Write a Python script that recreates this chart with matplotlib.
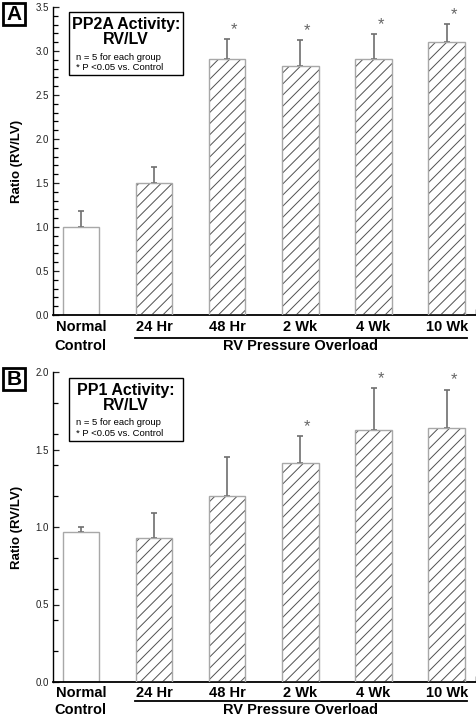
import matplotlib
matplotlib.use("Agg")
import matplotlib.pyplot as plt
from matplotlib.patches import Rectangle
from matplotlib.lines import Line2D
from matplotlib.ticker import MultipleLocator
import matplotlib.transforms as mtransforms

plt.rcParams['font.family'] = ['Liberation Sans', 'DejaVu Sans']
plt.rcParams['hatch.linewidth'] = 0.7

# ---------------- data ----------------
groups = ["Normal", "24 Hr", "48 Hr", "2 Wk", "4 Wk", "10 Wk"]
group_caption = "RV Pressure Overload"
control_caption = "Control"

pp2a_mean = [1.00, 1.50, 2.91, 2.83, 2.905, 3.105]
pp2a_sem = [0.185, 0.18, 0.23, 0.295, 0.285, 0.205]
pp2a_sig = [False, False, True, True, True, True]

pp1_mean = [0.966, 0.93, 1.20, 1.41, 1.624, 1.637]
pp1_sem = [0.034, 0.16, 0.25, 0.175, 0.27, 0.25]
pp1_sig = [False, False, False, True, True, True]

pp2a_title = "PP2A Activity:\nRV/LV"
pp1_title = "PP1 Activity:\nRV/LV"
note_lines = "n = 5 for each group\n* P <0.05 vs. Control"
ylabel = "Ratio (RV/LV)"

W, H = 477, 717
fig = plt.figure(figsize=(W / 100, H / 100), dpi=100)


def fy(px):
    return 1 - px / H


def fx(px):
    return px / W


def panel(letter, top_px, bottom_px, means, sems, sig, ymax, minor, title,
          box_px, title_y, note_y, lbl1_px, line_px, lbl2_px):
    ax = fig.add_axes([fx(53), fy(bottom_px), fx(476) - fx(53), fy(top_px) - fy(bottom_px)])
    x = list(range(len(groups)))
    width = 0.5
    for i, (xi, m) in enumerate(zip(x, means)):
        if i == 0:
            ax.bar(xi, m, width, color='white', edgecolor='#a8a8a8', linewidth=1.0, zorder=2)
        else:
            ax.bar(xi, m, width, color='white', edgecolor='#505050', hatch='///',
                   linewidth=0, zorder=2)
            ax.bar(xi, m, width, color='none', edgecolor='#a8a8a8', linewidth=1.0, zorder=3)
    ax.errorbar(x, means, yerr=[[0] * len(means), sems], fmt='none', ecolor='#6e6e6e',
                elinewidth=1.2, capsize=2.3, capthick=1.2, zorder=1)
    for xi, m, s, sg in zip(x, means, sems, sig):
        if sg:
            ax.annotate('*', xy=(xi, m + s), xytext=(7, 2), textcoords='offset pixels',
                        ha='center', va='bottom', fontsize=12, color='#666666')
    ax.set_xlim(-0.38, 5.4)
    ax.set_ylim(0, ymax)
    ax.yaxis.set_major_locator(MultipleLocator(0.5))
    ax.yaxis.set_minor_locator(MultipleLocator(minor))
    ax.yaxis.set_major_formatter(matplotlib.ticker.FormatStrFormatter('%.1f'))
    ax.tick_params(axis='y', which='major', direction='in', length=4.5, width=0.9,
                   labelsize=7, pad=3, colors='#222222')
    ax.tick_params(axis='y', which='minor', direction='in', length=3.5, width=0.9)
    ax.set_xticks([])
    ax.set_xticks([5.4], minor=True)
    ax.tick_params(axis='x', which='minor', direction='in', length=4, width=1.0)
    for sp in ['top', 'right']:
        ax.spines[sp].set_visible(False)
    ax.spines['left'].set_linewidth(1.0)
    ax.spines['bottom'].set_linewidth(1.3)
    ax.set_ylabel(ylabel, fontsize=9.5, fontweight='bold')
    ax.yaxis.set_label_coords((23 - 53) / (476 - 53), 0.5)

    trans = mtransforms.blended_transform_factory(ax.transData, fig.transFigure)
    for xi, g in zip(x, groups):
        ax.text(xi, fy(lbl1_px), g, transform=trans, ha='center', va='center',
                fontsize=10.5, fontweight='bold', clip_on=False)
    ax.text(x[0], fy(lbl2_px), control_caption, transform=trans, ha='center', va='center',
            fontsize=10.5, fontweight='bold', clip_on=False)
    ax.text((x[1] + x[-1]) / 2, fy(lbl2_px), group_caption, transform=trans, ha='center',
            va='center', fontsize=10.5, fontweight='bold', clip_on=False)
    ax.add_line(Line2D([x[1] - 0.26, x[-1] + 0.28], [fy(line_px)] * 2, transform=trans,
                       color='black', linewidth=1.3, clip_on=False))

    bx0, by0, bx1, by1 = box_px
    fig.patches.append(Rectangle((fx(bx0), fy(by1)), fx(bx1) - fx(bx0), fy(by0) - fy(by1),
                                 transform=fig.transFigure, facecolor='white',
                                 edgecolor='black', linewidth=1.0, zorder=5))
    fig.text(fx((bx0 + bx1) / 2), fy(title_y), title, ha='center', va='center',
             fontsize=11.5, fontweight='bold', linespacing=1.0, zorder=6)
    fig.text(fx(bx0 + 7), fy(note_y), note_lines, ha='left', va='center',
             fontsize=6.8, linespacing=1.15, zorder=6)

    lx0, ly0, lx1, ly1 = 3, top_px - 4, 25, top_px + 18
    fig.patches.append(Rectangle((fx(lx0), fy(ly1)), fx(lx1) - fx(lx0), fy(ly0) - fy(ly1),
                                 transform=fig.transFigure, facecolor='white',
                                 edgecolor='black', linewidth=2.0))
    fig.text(fx((lx0 + lx1) / 2), fy((ly0 + ly1) / 2 + 0.5), letter, ha='center',
             va='center', fontsize=15, fontweight='bold')
    return ax


panel('A', 7, 315, pp2a_mean, pp2a_sem, pp2a_sig, 3.5, 0.1, pp2a_title,
      (69, 12, 183, 75), 32, 62.5, 327, 337.5, 346)
panel('B', 372, 682, pp1_mean, pp1_sem, pp1_sig, 2.0, 0.2, pp1_title,
      (69, 378, 183, 441), 398, 428, 693, 700.5, 710.5)

fig.savefig('out.png', dpi=100)
